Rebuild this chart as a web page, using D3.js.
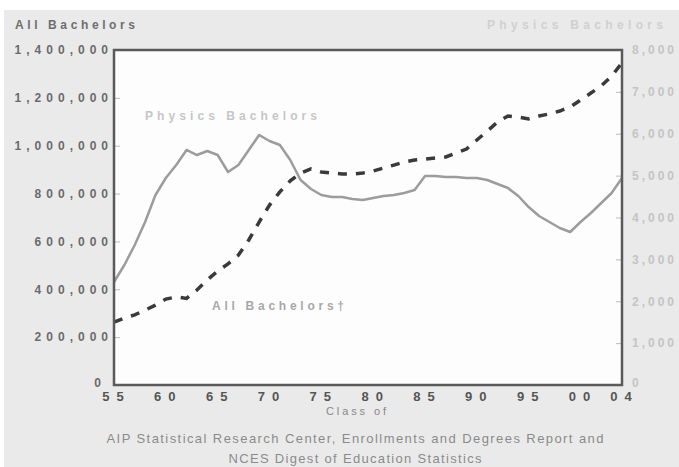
<!DOCTYPE html>
<html><head><meta charset="utf-8">
<script src="https://cdn.jsdelivr.net/npm/d3@7"></script>
<style>
html,body{margin:0;padding:0;background:#fff;}
svg{display:block;font-family:"Liberation Sans",Arial,sans-serif;}
</style></head><body>
<svg id="c" width="679" height="467"></svg>
<script>
const years = d3.range(1955, 2005);
const allBachelors = [263000,280000,293000,313000,334000,359000,368000,362000,397000,439000,
476000,506000,543000,606000,681000,752000,807000,853000,886000,903000,
890000,886000,882000,882000,886000,894000,907000,919000,932000,940000,
944000,949000,953000,970000,986000,1024000,1061000,1099000,1124000,1120000,
1112000,1124000,1133000,1145000,1162000,1191000,1220000,1250000,1291000,1346000];
const physicsBachelors = [2460,2866,3343,3892,4537,4943,5254,5612,5492,5588,
5492,5086,5254,5612,5970,5827,5731,5373,4895,4680,
4537,4489,4489,4442,4418,4466,4513,4537,4585,4657,
4991,4991,4967,4967,4943,4943,4895,4800,4704,4513,
4250,4036,3892,3749,3654,3892,4107,4346,4585,4943];
const xTicks = [1955,1960,1965,1970,1975,1980,1985,1990,1995,2000,2004];
const leftTicks = [0,200000,400000,600000,800000,1000000,1200000,1400000];
const rightTicks = [0,1000,2000,3000,4000,5000,6000,7000,8000];

const svg = d3.select("#c");
const L = 114, R = 622, T = 50, B = 385;

svg.append("rect").attr("x",4).attr("y",10).attr("width",675).attr("height",457).attr("fill","#eaeaea");

const x = d3.scaleLinear().domain([1955,2004]).range([L,R]);
const yL = d3.scaleLinear().domain([0,1400000]).range([B,T]);
const yR = d3.scaleLinear().domain([0,8000]).range([B,T]);

svg.append("rect").attr("x",L).attr("y",T).attr("width",R-L).attr("height",B-T).attr("fill","#fdfdfd");

// left axis
const gl = svg.append("g").attr("transform",`translate(${L},0)`)
  .call(d3.axisLeft(yL).tickValues(leftTicks).tickSize(-6).tickPadding(1).tickFormat(d3.format(",")));
gl.select(".domain").remove();
gl.selectAll(".tick line").attr("stroke","#bbb");
gl.selectAll("text").attr("fill","#6a6a6a").style("font-size","12px").style("font-weight","bold").style("letter-spacing","5px");
gl.selectAll(".tick").filter(d => d === 0).select("text").attr("dy","0.1em").attr("x",-8);

// right axis
const gr = svg.append("g").attr("transform",`translate(${R},0)`)
  .call(d3.axisRight(yR).tickValues(rightTicks).tickSize(-6).tickPadding(10).tickFormat(d3.format(",")));
gr.select(".domain").remove();
gr.selectAll(".tick line").attr("stroke","#bbb");
gr.selectAll("text").attr("fill","#c4c4c4").style("font-size","12px").style("font-weight","bold").style("letter-spacing","3px");
gr.selectAll(".tick").filter(d => d === 0).select("text").attr("dy","0.1em");

// bottom axis
const gb = svg.append("g").attr("transform",`translate(0,${B})`)
  .call(d3.axisBottom(x).tickValues(xTicks).tickSize(0).tickPadding(7).tickFormat(d => String(d).slice(2)));
gb.select(".domain").remove();
gb.selectAll("text").attr("fill","#555").attr("dx","2").style("font-size","13px").style("font-weight","bold").style("letter-spacing","7px");

// lines
const linePhys = d3.line().x((d,i)=>x(years[i])).y(d=>yR(d));
const lineAll = d3.line().x((d,i)=>x(years[i])).y(d=>yL(d));
svg.append("path").datum(physicsBachelors).attr("d",linePhys).attr("fill","none")
  .attr("stroke","#9c9c9c").attr("stroke-width",2.5).attr("stroke-linejoin","round");
svg.append("path").datum(allBachelors).attr("d",lineAll).attr("fill","none")
  .attr("stroke","#3a3a3a").attr("stroke-width",3.5).attr("stroke-dasharray","9,9");

// frame
svg.append("rect").attr("x",L).attr("y",T).attr("width",R-L).attr("height",B-T)
  .attr("fill","none").attr("stroke","#5a5a5a").attr("stroke-width",2.5);

function label(txt, xx, yy, len, size, weight, color, anchor){
  svg.append("text").attr("x",xx).attr("y",yy).attr("textLength",len).attr("lengthAdjust","spacing")
    .attr("text-anchor",anchor||"start").attr("fill",color)
    .style("font-size",size+"px").style("font-weight",weight).text(txt);
}
label("All Bachelors", 15, 29, 120, 12, "bold", "#6e6e6e");
label("Physics Bachelors", 487, 29, 176, 12, "bold", "#d0d0d0");
label("Physics Bachelors", 145, 120, 172, 12, "bold", "#c6c6c6");
label("All Bachelors\u2020", 212, 310, 132, 12, "bold", "#a8a8a8");
label("Class of", 356, 415, 60, 11, "normal", "#888", "middle");
label("AIP Statistical Research Center, Enrollments and Degrees Report and", 355, 443, 497, 13, "normal", "#8a8a8a", "middle");
label("NCES Digest of Education Statistics", 355, 463, 253, 13, "normal", "#8a8a8a", "middle");
</script>
</body></html>
